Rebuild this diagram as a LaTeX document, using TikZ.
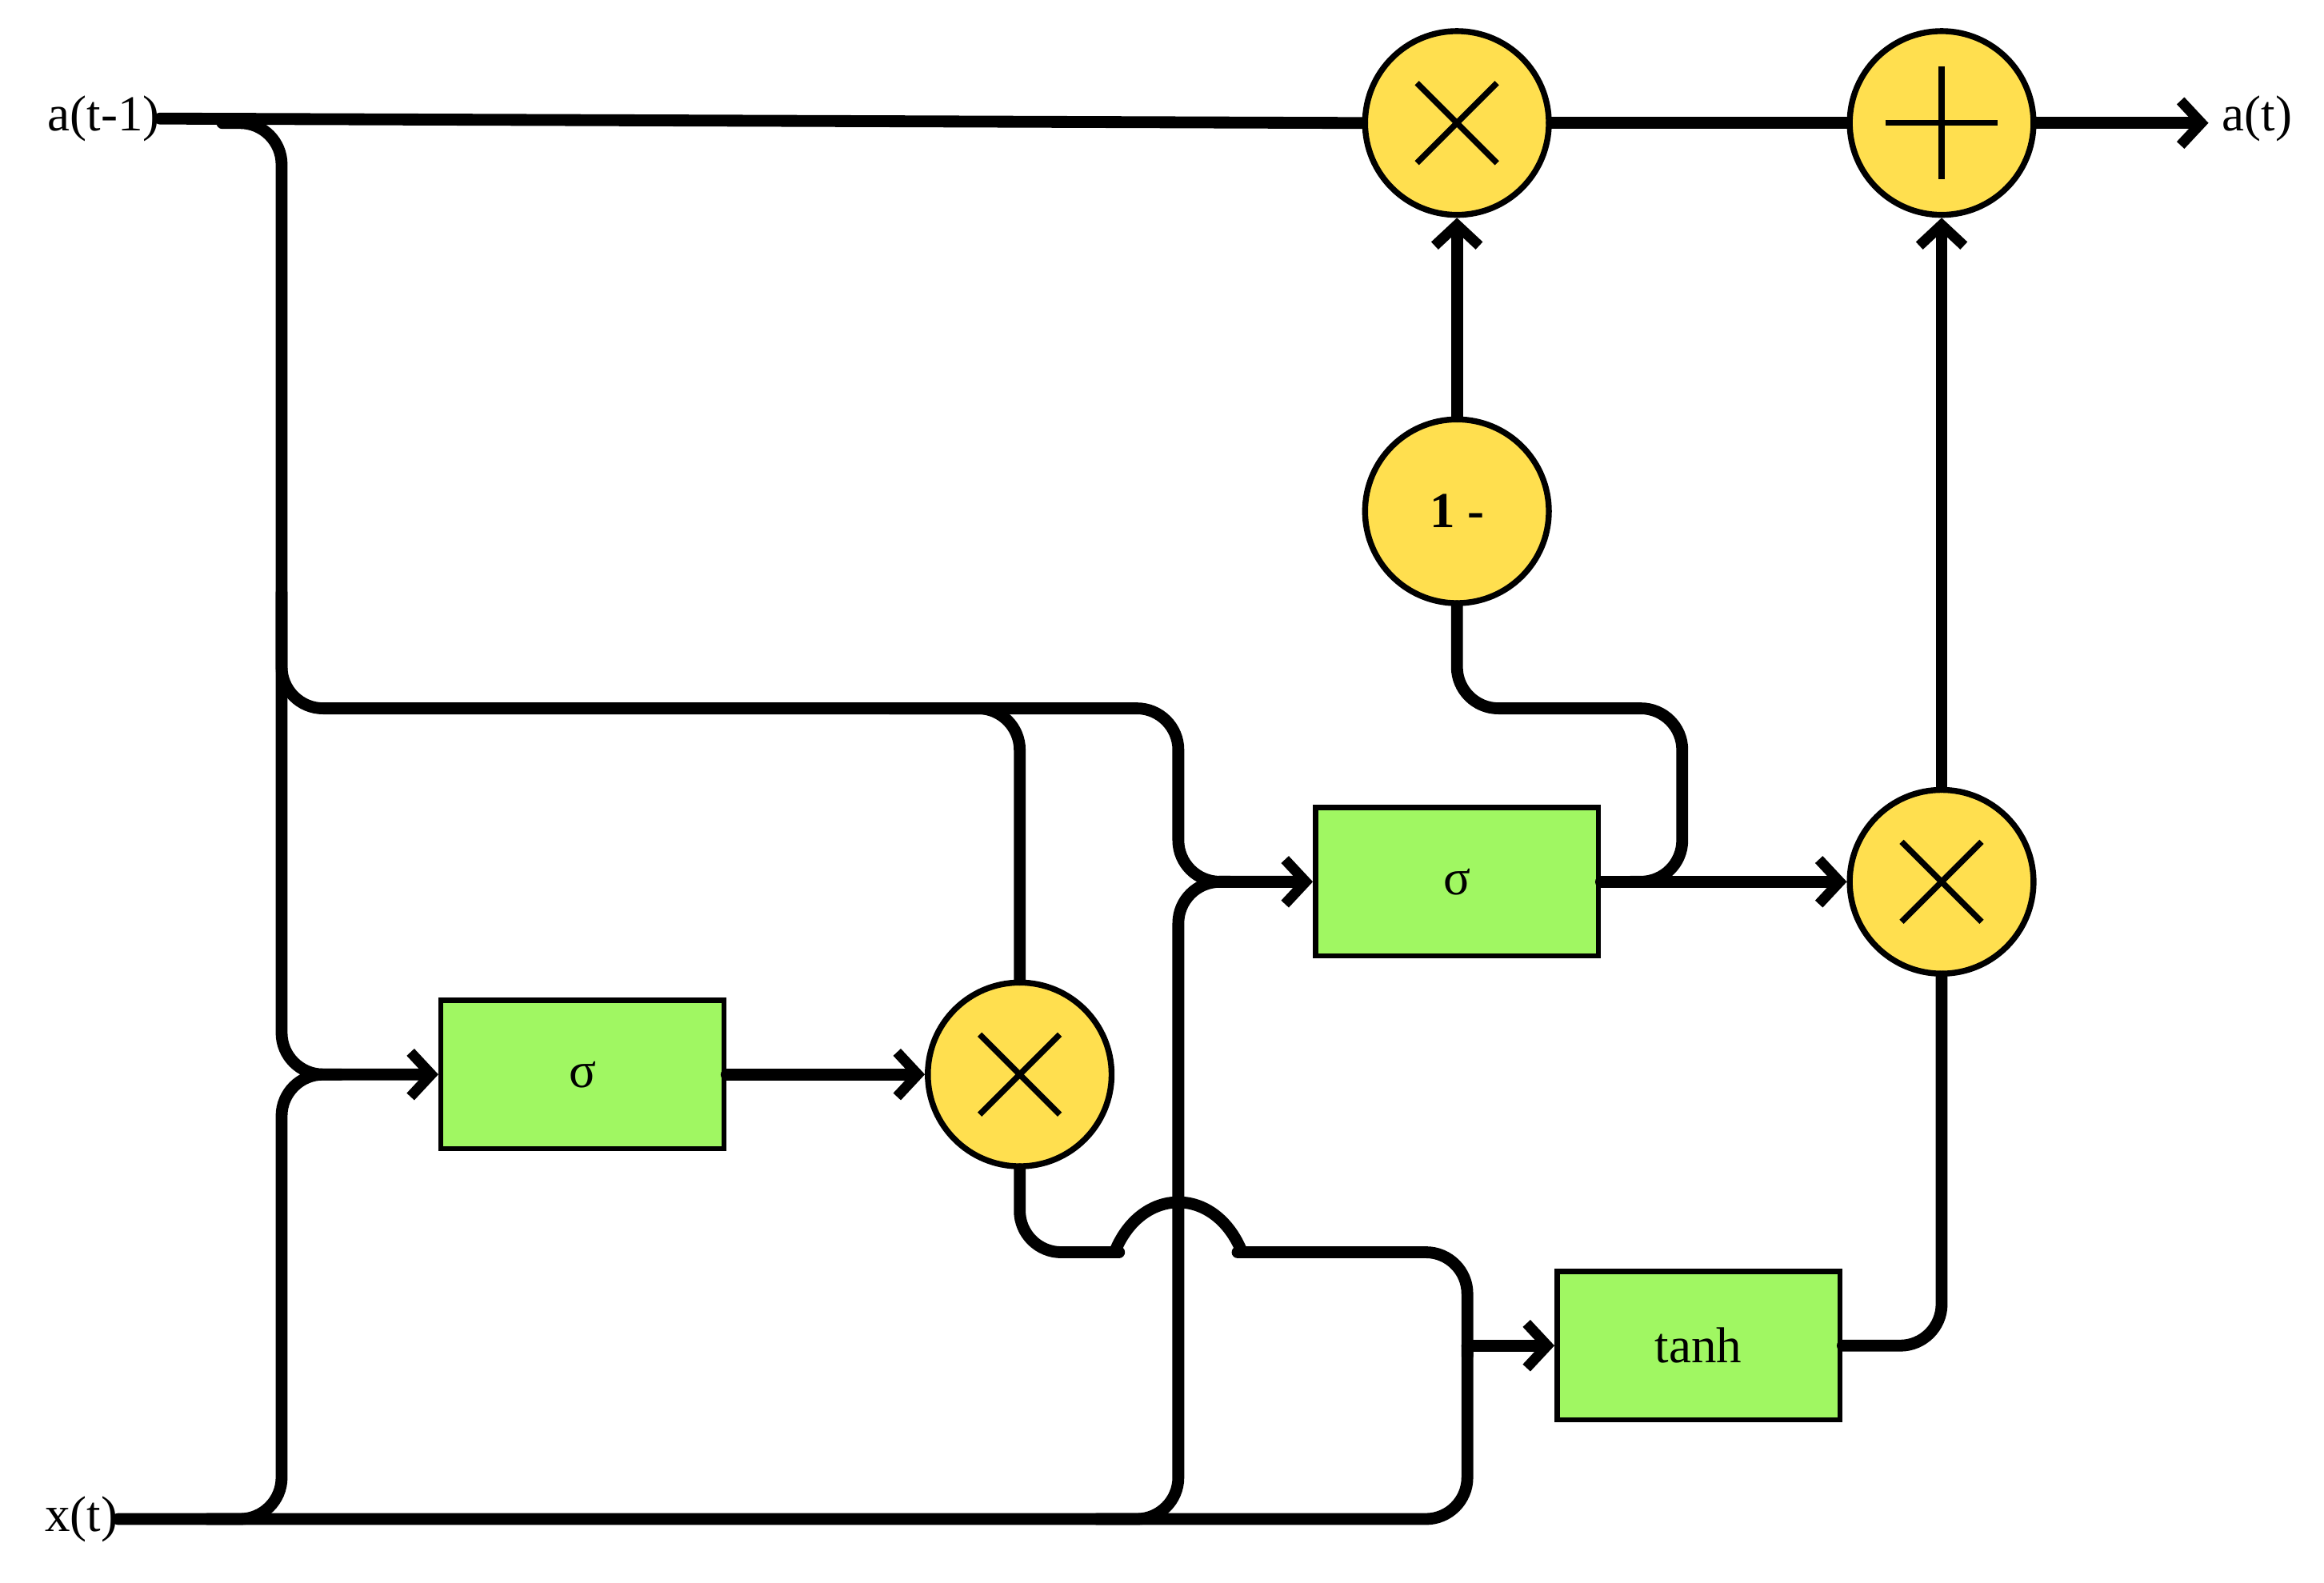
\documentclass[tikz,border=0pt]{standalone}
\usepackage{fontspec}
\setmainfont{Liberation Serif}
\usetikzlibrary{arrows.meta,calc}
\definecolor{opy}{HTML}{FFDF4F}
\definecolor{boxg}{HTML}{A0F762}
\begin{document}
\begin{tikzpicture}[x=1pt,y=-1pt,
  op/.style={circle,draw=black,line width=4pt,fill=opy,minimum size=124pt,inner sep=0pt},
  box/.style={draw=black,line width=3.5pt,fill=boxg,minimum width=191pt,minimum height=100pt,inner sep=0pt,font=\fontsize{34}{40}\selectfont},
  lbl/.style={font=\fontsize{34}{40}\selectfont,inner sep=0pt},
  w/.style={line width=8pt,rounded corners=28pt,line cap=round},
  ar/.style={w,-{Straight Barb[length=14pt,width=30pt,line width=7pt]}}]
\useasboundingbox (0,0) rectangle (1568,1068);
% nodes
\node[op] (m1) at (983,83) {};
\node[op] (pl) at (1310,83) {};
\node[op] (om) at (983,345) {\fontsize{34}{40}\selectfont\bfseries 1 -};
\node[op] (m2) at (1310,595) {};
\node[op] (m3) at (688,725) {};
\node[box] (s1) at (983,595) {σ};
\node[box] (s2) at (393,725) {σ};
\node[box] (th) at (1146,908) {tanh};
\node[lbl] (a0) at (70,80) {a(t-1)};
\node[lbl] (a1) at (1523,80) {a(t)};
\node[lbl] (x0) at (55,1025) {x(t)};
% crosses and plus
\foreach \n in {m1,m2,m3}{\draw[line width=4pt] ($(\n)+(-27,-27)$) -- ($(\n)+(27,27)$) ($(\n)+(-27,27)$) -- ($(\n)+(27,-27)$);}
\draw[line width=4pt] ($(pl)+(-38,0)$) -- ($(pl)+(38,0)$) ($(pl)+(0,-38)$) -- ($(pl)+(0,38)$);
% main line
\draw[w] (a0.east) -- (m1.west);
\draw[w] (m1.east) -- (pl.west);
\draw[ar] (pl.east) -- (1490,83);
\draw[ar] (om.north) -- (m1.south);
\draw[ar] (m2.north) -- (pl.south);
\draw[ar] (s1.east) -- (m2.west);
\draw[ar] (s2.east) -- (m3.west);
\draw[w] (th.east) -- (1310,908) -- (m2.south);
% a(t-1) branches
\draw[ar] (150,83) -- (190,83) -- (190,725) -- (s2.west);
\draw[w] (190,400) -- (190,478) -- (688,478) -- (m3.north);
\draw[ar] (600,478) -- (795,478) -- (795,595) -- (s1.west);
% x(t) branches
\draw[w] (x0.east) -- (930,1025) -- (990,1025) -- (990,908);
\draw[ar] (990,908) -- (th.west);
\draw[w] (140,1025) -- (190,1025) -- (190,725) -- (230,725);
\draw[w] (740,1025) -- (795,1025) -- (795,595) -- (830,595);
% mult output to tanh with bump
\draw[w] (m3.south) -- (688,845) -- (755,845);
\draw[line width=8pt] (752,845) .. controls (770,800) and (820,800) .. (838,845);
\draw[w] (835,845) -- (990,845) -- (990,915);
% sigma1 to 1-
\draw[w] (1100,595) -- (1135,595) -- (1135,478) -- (983,478) -- (om.south);
\end{tikzpicture}
\end{document}
